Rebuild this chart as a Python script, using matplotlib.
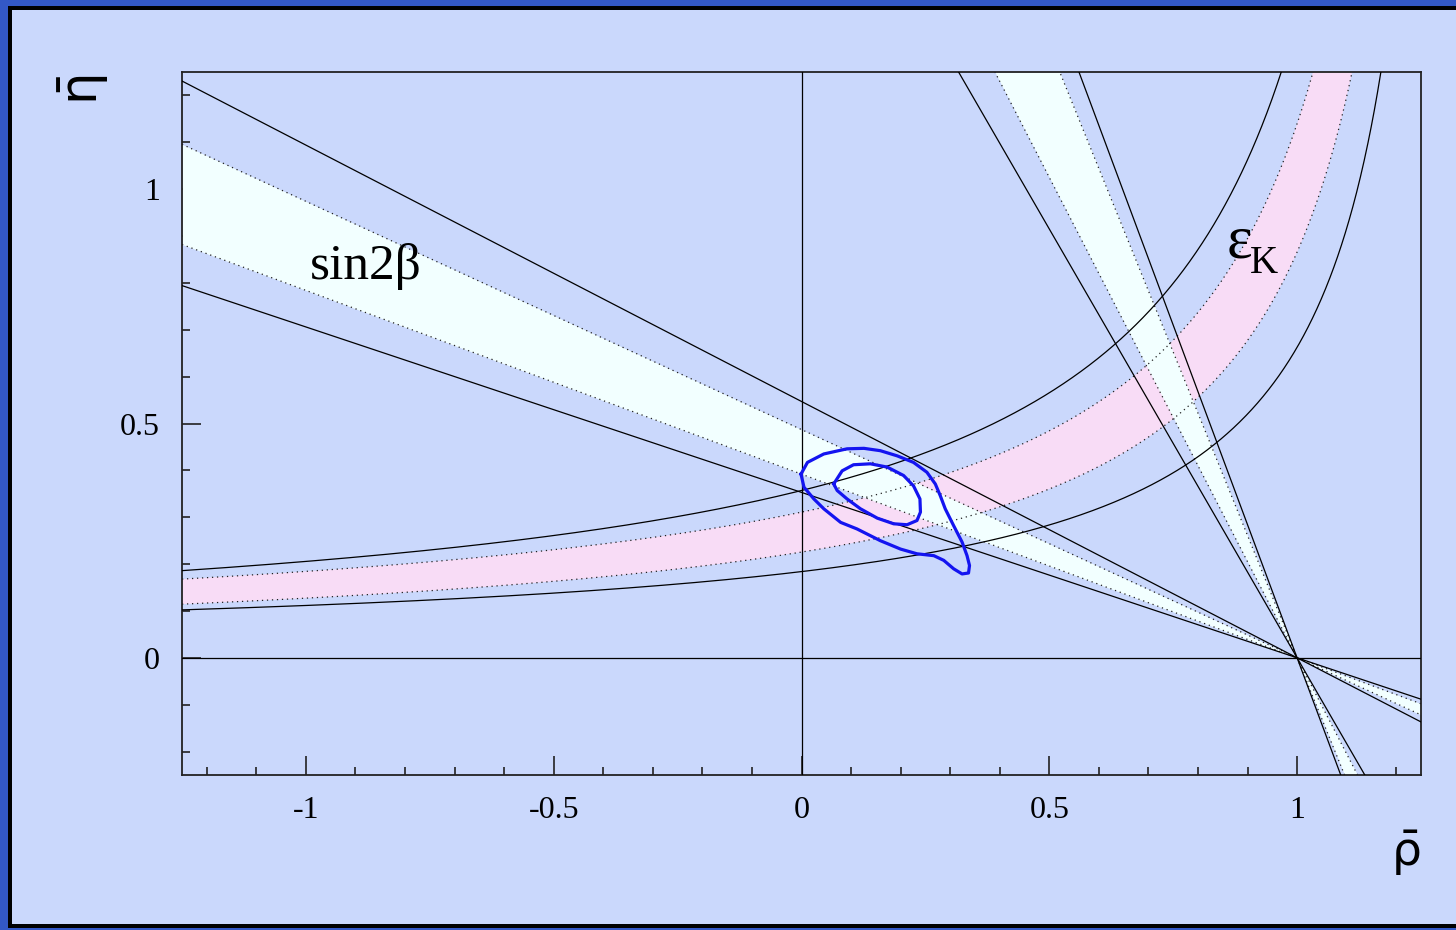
import numpy as np
import matplotlib
matplotlib.use("Agg")
import matplotlib.pyplot as plt
from matplotlib.patches import Rectangle

# 颜色
BG = "#cad8fc"
FRAME = "#3358c6"
WHITE_BAND = "#f2ffff"
PINK_BAND = "#f8dcf6"
CONTOUR = "#1414f0"

# sin2beta: eta = k * (1 - rho)
sin2b_solid = [0.353, 0.547]
sin2b_band = [0.392, 0.487]
# 第二解 (陡峭的)
sin2b_alt_solid = [1.83, 2.84]
sin2b_alt_band = [2.05, 2.61]

# epsilon_K 双曲线: eta = a / (b - rho) + c
epsk_solid_up = (0.4824, 1.3542, 0.0008)
epsk_band_up = (0.4058, 1.360, 0.0125)
epsk_band_lo = (0.3167, 1.363, -0.0067)
epsk_solid_lo = (0.2309, 1.3558, 0.0137)

# 拟合等高线
outer_rho = [-0.001, 0.012, 0.045, 0.092, 0.126, 0.159, 0.193, 0.226, 0.253, 0.270,
             0.280, 0.290, 0.307, 0.324, 0.334, 0.339, 0.337, 0.324, 0.307, 0.287,
             0.267, 0.233, 0.200, 0.159, 0.112, 0.079, 0.045, 0.025, 0.005, -0.001]
outer_eta = [0.392, 0.417, 0.435, 0.446, 0.447, 0.442, 0.431, 0.417, 0.396, 0.371,
             0.346, 0.318, 0.282, 0.247, 0.218, 0.197, 0.181, 0.179, 0.190, 0.208,
             0.218, 0.222, 0.232, 0.250, 0.275, 0.289, 0.318, 0.339, 0.364, 0.392]
inner_rho = [0.065, 0.082, 0.105, 0.139, 0.173, 0.206, 0.226, 0.239, 0.240, 0.233,
             0.213, 0.186, 0.153, 0.119, 0.092, 0.072, 0.065]
inner_eta = [0.371, 0.399, 0.412, 0.414, 0.407, 0.389, 0.367, 0.339, 0.311, 0.293,
             0.284, 0.286, 0.298, 0.318, 0.339, 0.357, 0.371]

x_ticks = [-1, -0.5, 0, 0.5, 1]
x_ticklabels = ["-1", "-0.5", "0", "0.5", "1"]
y_ticks = [0, 0.5, 1]
y_ticklabels = ["0", "0.5", "1"]

XMIN, XMAX = -1.25, 1.25
YMIN, YMAX = -0.25, 1.25

W, H = 1456, 930
fig = plt.figure(figsize=(W / 100.0, H / 100.0), dpi=100)
fig.patch.set_facecolor(FRAME)


def px_rect(x0, y0, x1, y1, color):
    """以像素坐标添加矩形 (原点左上)"""
    fig.patches.append(Rectangle((x0 / W, 1 - y1 / H), (x1 - x0) / W, (y1 - y0) / H,
                                 transform=fig.transFigure, facecolor=color,
                                 edgecolor="none", zorder=-10))


# 画布边框
px_rect(8, 6, W, 928, "black")
px_rect(12, 10, W, 924, BG)

ax = fig.add_axes([182 / W, 1 - 775 / H, (1421 - 182) / W, (775 - 72) / H])
ax.set_zorder(5)
ax.set_facecolor(BG)
ax.set_xlim(XMIN, XMAX)
ax.set_ylim(YMIN, YMAX)

rho = np.linspace(XMIN, XMAX, 800)
eta = np.linspace(YMIN, YMAX, 800)
rho_h = np.linspace(XMIN, 1.30, 2000)

dot_style = dict(color="#222222", lw=0.9, ls=(0, (1, 3)))
solid_style = dict(color="black", lw=0.9)


def hyper(p, r):
    a, b, c = p
    return a / (b - r) + c


# epsilon_K 带
ax.fill_between(rho_h, hyper(epsk_band_lo, rho_h), hyper(epsk_band_up, rho_h),
                where=rho_h < 1.34, color=PINK_BAND, lw=0, zorder=1)

# sin2beta 带
ax.fill_between(rho, sin2b_band[0] * (1 - rho), sin2b_band[1] * (1 - rho),
                color=WHITE_BAND, lw=0, zorder=2)
ax.fill_betweenx(eta, 1 - eta / sin2b_alt_band[0], 1 - eta / sin2b_alt_band[1],
                 color=WHITE_BAND, lw=0, zorder=2)

# 虚线边界
for p in (epsk_band_up, epsk_band_lo):
    r = rho_h[rho_h < p[1] - 0.05]
    ax.plot(r, hyper(p, r), zorder=3, **dot_style)
for k in sin2b_band:
    ax.plot(rho, k * (1 - rho), zorder=3, **dot_style)
for k in sin2b_alt_band:
    ax.plot(1 - eta / k, eta, zorder=3, **dot_style)

# 实线边界
for p in (epsk_solid_up, epsk_solid_lo):
    r = rho_h[rho_h < p[1] - 0.05]
    ax.plot(r, hyper(p, r), zorder=4, **solid_style)
for k in sin2b_solid:
    ax.plot(rho, k * (1 - rho), zorder=4, **solid_style)
for k in sin2b_alt_solid:
    ax.plot(1 - eta / k, eta, zorder=4, **solid_style)

# 坐标轴线
ax.axhline(0, zorder=4, **solid_style)
ax.axvline(0, zorder=4, **solid_style)

# 等高线
ax.plot(outer_rho, outer_eta, color=CONTOUR, lw=2.3, solid_joinstyle="round", zorder=6)
ax.plot(inner_rho, inner_eta, color=CONTOUR, lw=2.3, solid_joinstyle="round", zorder=6)

# 刻度
ax.set_xticks(x_ticks)
ax.set_xticklabels(x_ticklabels)
ax.set_yticks(y_ticks)
ax.set_yticklabels(y_ticklabels)
ax.set_xticks(np.arange(-12, 13) / 10.0, minor=True)
ax.set_yticks(np.arange(-2, 13) / 10.0, minor=True)
ax.tick_params(which="both", direction="in", top=False, right=False, width=1.2, color="#222222")
ax.tick_params(which="major", length=14)
ax.tick_params(which="minor", length=6)
ax.tick_params(axis="x", pad=15)
ax.tick_params(axis="y", pad=16)
for lab in ax.get_xticklabels() + ax.get_yticklabels():
    lab.set_fontfamily(["Liberation Serif", "DejaVu Serif"])
    lab.set_fontsize(23)
for s in ax.spines.values():
    s.set_linewidth(1.3)
    s.set_color("#222222")

# 标签
plt.rcParams["mathtext.fontset"] = "dejavusans"
plt.rcParams["mathtext.default"] = "regular"
fig.text(1406 / W, 1 - 853 / H, r"$\bar{\rho}$", fontsize=34, ha="center", va="center")
fig.text(84 / W, 1 - 90 / H, r"$\bar{\eta}$", fontsize=37, ha="center", va="center", rotation=90)

serif = ["Liberation Serif", "DejaVu Serif"]
ax.text(-0.88, 0.834, "sin2β", fontsize=37, family=serif, ha="center", va="center", zorder=7)
ax.text(0.883, 0.885, "ε", fontsize=44, family=serif, ha="center", va="center", zorder=7)
ax.text(0.934, 0.842, "K", fontsize=28, family=serif, ha="center", va="center", zorder=7)

fig.savefig("out.png", dpi=100, facecolor=fig.get_facecolor())
